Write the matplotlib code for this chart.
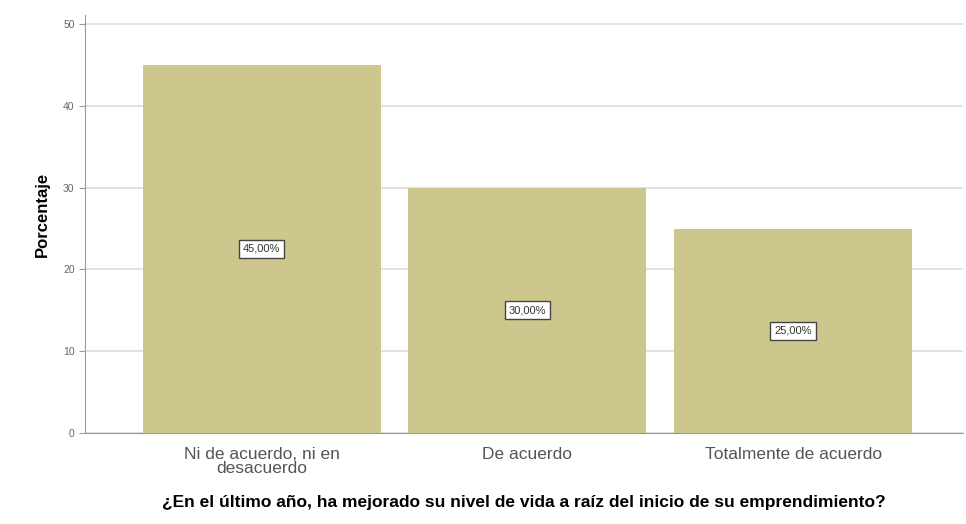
import matplotlib.pyplot as plt

plt.rcParams["font.family"] = ["Liberation Sans", "DejaVu Sans"]

categorias = ["Ni de acuerdo, ni en\ndesacuerdo", "De acuerdo", "Totalmente de acuerdo"]
porcentajes = [45.0, 30.0, 25.0]
etiquetas = ["45,00%", "30,00%", "25,00%"]

fig = plt.figure(figsize=(9.66, 5.24), dpi=100)
ax = fig.add_axes([0.088, 0.174, 0.909, 0.797])

x = range(len(categorias))
barras = ax.bar(x, porcentajes, width=0.895, color="#CEC78D", zorder=2)

# etiquetas en el centro de cada barra
for b, txt in zip(barras, etiquetas):
    ax.text(b.get_x() + b.get_width() / 2, b.get_height() / 2, txt,
            ha="center", va="center", fontsize=8, color="#333333", zorder=3,
            bbox=dict(boxstyle="square,pad=0.35", fc="white", ec="#444444", lw=1.0))

ax.set_xlim(-0.665, 2.64)
ax.set_ylim(0, 51.1)
ax.set_yticks([0, 10, 20, 30, 40, 50])
ax.set_xticks(list(x))
ax.set_xticklabels(categorias, fontsize=12.5, color="#555555", linespacing=0.9)
ax.tick_params(axis="y", labelsize=7.5, labelcolor="#666666", length=4, color="#999999")
ax.tick_params(axis="x", length=0, pad=10)
ax.grid(axis="y", color="#DDDDDD", lw=1.2, zorder=0)

for lado in ["top", "right"]:
    ax.spines[lado].set_visible(False)
ax.spines["left"].set_color("#999999")
ax.spines["bottom"].set_color("#999999")

ax.set_ylabel("Porcentaje", fontsize=12, fontweight="bold")
ax.yaxis.set_label_coords(-0.040, 0.524)
ax.set_xlabel("¿En el último año, ha mejorado su nivel de vida a raíz del inicio de su emprendimiento?",
              fontsize=12.5, fontweight="bold", labelpad=14)

fig.savefig("out.png", dpi=100)
